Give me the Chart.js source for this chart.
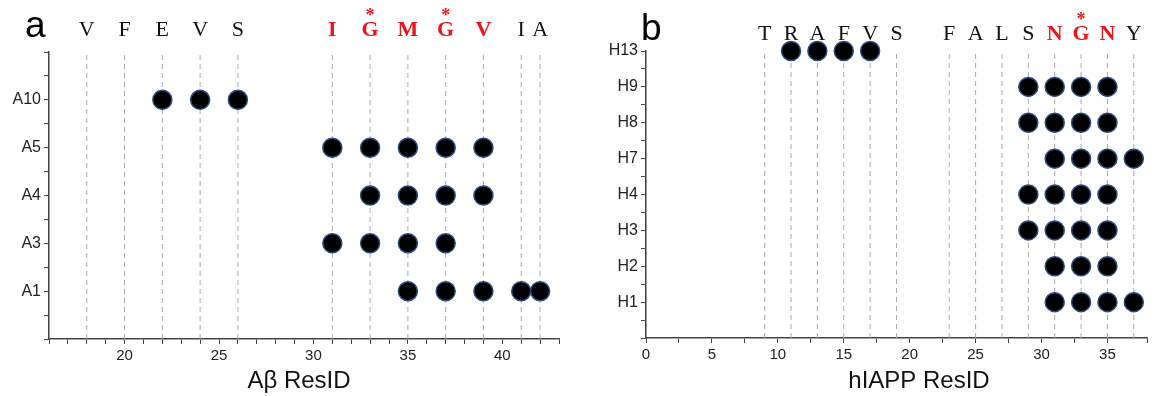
<!DOCTYPE html>
<html>
<head>
<meta charset="utf-8">
<script src="https://cdn.jsdelivr.net/npm/chart.js@4.4.1/dist/chart.umd.min.js"></script>
<style>
  html, body { margin: 0; padding: 0; background: #fff; }
  #wrap { position: relative; width: 1158px; height: 396px; }
  .panel { position: absolute; top: 0; height: 396px; }
  #pa { left: 0; width: 575px; }
  #pb { left: 580px; width: 578px; }
</style>
</head>
<body>
<div id="wrap">
  <div class="panel" id="pa"><canvas id="chartA"></canvas></div>
  <div class="panel" id="pb"><canvas id="chartB"></canvas></div>
</div>
<script>
// panel a : Abeta rows and the residues they touch
var abRows = ['A1', 'A3', 'A4', 'A5', 'A10'];
var abContacts = [
  [35, 37, 39, 41, 42],   // A1
  [31, 33, 35, 37],       // A3
  [33, 35, 37, 39],       // A4
  [31, 33, 35, 37, 39],   // A5
  [22, 24, 26]            // A10
];
var abResIds = [18, 20, 22, 24, 26, 31, 33, 35, 37, 39, 41, 42];
var abResNames = ['V', 'F', 'E', 'V', 'S', 'I', 'G', 'M', 'G', 'V', 'I', 'A'];
var abHot = [31, 33, 35, 37, 39];
var abStar = [33, 37];

// panel b : hIAPP
var hRows = ['H1', 'H2', 'H3', 'H4', 'H7', 'H8', 'H9', 'H13'];
var hContacts = [
  [31, 33, 35, 37],   // H1
  [31, 33, 35],       // H2
  [29, 31, 33, 35],   // H3
  [29, 31, 33, 35],   // H4
  [31, 33, 35, 37],   // H7
  [29, 31, 33, 35],   // H8
  [29, 31, 33, 35],   // H9
  [11, 13, 15, 17]    // H13
];
var hResIds = [9, 11, 13, 15, 17, 19, 23, 25, 27, 29, 31, 33, 35, 37];
var hResNames = ['T', 'R', 'A', 'F', 'V', 'S', 'F', 'A', 'L', 'S', 'N', 'G', 'N', 'Y'];
var hHot = [31, 33, 35];
var hStar = [33];

var RED = '#e8161c';
var AXIS = '#444';

// letters over the dashed lines, panel letter and axis title
var residuePlugin = {
  id: 'residues',
  afterDraw: function(chart) {
    var o = chart.options.plugins.residues;
    var ctx = chart.ctx;
    var xs = chart.scales.x;
    ctx.save();
    ctx.textBaseline = 'alphabetic';
    ctx.fillStyle = '#000';
    ctx.textAlign = 'left';
    ctx.font = '37px "Liberation Sans", Arial, sans-serif';
    ctx.fillText(o.panel, o.panelX, o.panelY);

    ctx.textAlign = 'center';
    o.ids.forEach(function(r, i) {
      var hot = o.hot.indexOf(r) >= 0;
      var px = xs.getPixelForValue(r);
      ctx.font = (hot ? 'bold ' : '') + '22px "Liberation Serif", "Times New Roman", serif';
      ctx.fillStyle = hot ? RED : '#111';
      ctx.fillText(o.names[i], px, o.letterY);
      if (o.star.indexOf(r) >= 0) {
        ctx.font = 'bold 18px "Liberation Serif", serif';
        ctx.fillText('*', px, o.letterY - 15);
      }
    });

    ctx.fillStyle = '#111';
    ctx.font = '24px "Liberation Sans", Arial, sans-serif';
    ctx.fillText(o.title, o.titleX, 388);
    ctx.restore();
  }
};

function makePanel(id, p) {
  var datasets = [];
  var pts = [];
  p.contacts.forEach(function(list, i) {
    list.forEach(function(r) { pts.push({ x: r, y: i + 1 }); });
  });
  datasets.push({
    data: pts,
    order: 0,
    clip: false,
    showLine: false,
    pointRadius: 9.5,
    pointHoverRadius: 9.5,
    backgroundColor: '#000',
    borderColor: '#2b4a80',
    borderWidth: 1.5
  });
  p.ids.forEach(function(r) {
    datasets.push({
      type: 'line',
      data: [{ x: r, y: 0 }, { x: r, y: p.yMax }],
      order: 1,
      showLine: true,
      pointRadius: 0,
      borderColor: '#aaaaaa',
      borderWidth: 1,
      borderDash: [5, 4],
      fill: false
    });
  });

  return new Chart(document.getElementById(id), {
    type: 'scatter',
    data: { datasets: datasets },
    plugins: [residuePlugin],
    options: {
      responsive: true,
      maintainAspectRatio: false,
      animation: false,
      layout: { padding: { left: 0, top: p.top, right: p.right, bottom: 0 } },
      plugins: {
        legend: { display: false },
        tooltip: { enabled: false },
        residues: p.labels
      },
      scales: {
        x: {
          type: 'linear',
          min: p.xMin,
          max: p.xMax,
          afterFit: function(s) { s.height = p.xHeight; },
          grid: { drawOnChartArea: false, drawTicks: true, tickLength: 5, color: AXIS },
          border: { display: true, color: AXIS, width: 1.5 },
          ticks: {
            stepSize: p.xStep,
            autoSkip: false,
            maxRotation: 0,
            padding: 3,
            color: '#222',
            font: { family: '"Liberation Sans", Arial, sans-serif', size: 15 },
            callback: function(v) { return v % 5 === 0 ? v : ''; }
          }
        },
        y: {
          type: 'linear',
          min: 0,
          max: p.yMax,
          afterFit: function(s) { s.width = p.yWidth; },
          grid: { drawOnChartArea: false, drawTicks: true, tickLength: 5, color: AXIS },
          border: { display: true, color: AXIS, width: 1.5 },
          ticks: {
            stepSize: 0.5,
            autoSkip: false,
            padding: 3,
            color: '#222',
            font: { family: '"Liberation Sans", Arial, sans-serif', size: 16 },
            callback: function(v) {
              return (Number.isInteger(v) && v >= 1 && v <= p.rows.length) ? p.rows[v - 1] : '';
            }
          }
        }
      }
    }
  });
}

makePanel('chartA', {
  rows: abRows, contacts: abContacts, ids: abResIds,
  xMin: 16, xMax: 43, xStep: 1, yMax: 6,
  top: 52, right: 16, yWidth: 49, xHeight: 57,
  labels: { panel: 'a', panelX: 25, panelY: 37, ids: abResIds, names: abResNames,
            hot: abHot, star: abStar, letterY: 36, title: 'Aβ ResID', titleX: 299 }
});

makePanel('chartB', {
  rows: hRows, contacts: hContacts, ids: hResIds,
  xMin: 0, xMax: 38, xStep: 2.5, yMax: 8,
  top: 51, right: 1, yWidth: 66, xHeight: 58,
  labels: { panel: 'b', panelX: 61, panelY: 40, ids: hResIds, names: hResNames,
            hot: hHot, star: hStar, letterY: 40, title: 'hIAPP ResID', titleX: 339 }
});
</script>
</body>
</html>
